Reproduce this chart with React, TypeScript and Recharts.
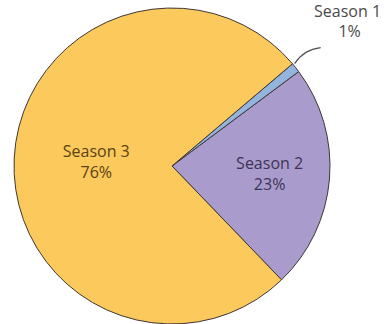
import { PieChart, Pie, Cell } from 'recharts';

export const seasons = ['Season 2', 'Season 1', 'Season 3'];
export const shares = [23, 1, 76];

const colors: Record<string, string> = {
  'Season 1': '#93b4dc',
  'Season 2': '#a99ccc',
  'Season 3': '#fbc95c',
};
const textColors: Record<string, string> = {
  'Season 1': '#4a4a4a',
  'Season 2': '#3d3356',
  'Season 3': '#5a4214',
};

const RAD = Math.PI / 180;

const renderLabel = (props: any) => {
  const { cx, cy, midAngle, outerRadius, name, percent } = props;
  const pct = Math.round(percent * 100) + '%';
  const cos = Math.cos(-midAngle * RAD);
  const sin = Math.sin(-midAngle * RAD);
  const color = textColors[name];
  const style = { fontFamily: '"Open Sans", sans-serif', fontSize: 16 };
  if (name === 'Season 1') {
    const sx = cx + outerRadius * cos;
    const sy = cy + outerRadius * sin;
    const tx = cx + outerRadius * 1.42 * cos;
    const ty = cy + outerRadius * 1.42 * sin;
    return (
      <g>
        <path
          d={`M${sx - 1},${sy - 4} Q${sx + 8},${sy - 18} ${sx + 25},${sy - 20}`}
          stroke="#555"
          fill="none"
          strokeWidth={1.2}
        />
        <text x={tx} y={ty - 9} textAnchor="middle" fill={color} style={style}>
          {name}
        </text>
        <text x={tx + 2} y={ty + 11} textAnchor="middle" fill={color} style={style}>
          {pct}
        </text>
      </g>
    );
  }
  const k = name === 'Season 3' ? 0.48 : 0.62;
  const x = cx + outerRadius * k * cos;
  const y = cy + outerRadius * k * sin;
  return (
    <g>
      <text x={x} y={y - 5} textAnchor="middle" fill={color} style={style}>
        {name}
      </text>
      <text x={x} y={y + 16} textAnchor="middle" fill={color} style={style}>
        {pct}
      </text>
    </g>
  );
};

export default function App() {
  const data = seasons.map((s, i) => ({ name: s, value: shares[i] }));
  return (
    <div style={{ position: 'absolute', left: 0, top: 0, background: '#fff' }}>
      <PieChart width={385} height={324} margin={{ top: 0, right: 0, bottom: 0, left: 0 }}>
        <Pie
          data={data}
          dataKey="value"
          nameKey="name"
          cx={172}
          cy={166}
          outerRadius={158}
          startAngle={-46.1}
          endAngle={313.9}
          stroke="#3f3636"
          strokeWidth={1}
          label={renderLabel}
          labelLine={false}
          isAnimationActive={false}
        >
          {data.map((d) => (
            <Cell key={d.name} fill={colors[d.name]} />
          ))}
        </Pie>
      </PieChart>
    </div>
  );
}
